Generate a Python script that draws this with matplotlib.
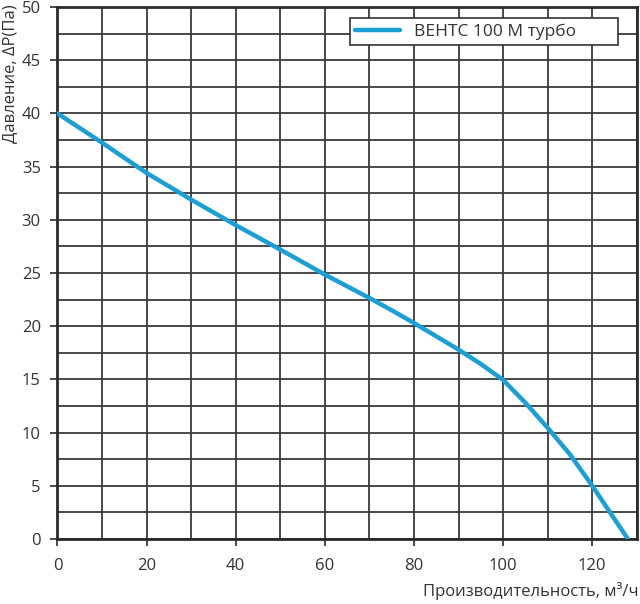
import numpy as np
import matplotlib.pyplot as plt
from matplotlib.ticker import MultipleLocator

# расход, м3/ч и давление, Па
flow = [0, 10, 20, 30, 40, 50, 60, 70, 75, 80, 85, 90, 95, 100, 105, 110, 115, 120, 124, 128]
pressure = [40, 37.25, 34.4, 31.9, 29.5, 27.2, 24.85, 22.65, 21.5, 20.3, 19.05, 17.8, 16.45,
            14.95, 12.8, 10.45, 7.95, 5.0, 2.5, 0]
label = "ВЕНТС 100 М турбо"

plt.rcParams['font.family'] = ['Open Sans', 'DejaVu Sans']
txt = '#333333'
gridc = '#3a3a3a'

fig = plt.figure(figsize=(6.4, 6.04), dpi=100)
ax = fig.add_axes([0.0898, 0.1076, 0.9052, 0.8808])

ax.plot(flow, pressure, color='#1a9fd6', lw=3.2, solid_capstyle='round',
        solid_joinstyle='round', label=label + " " * 8, zorder=3)

ax.set_xlim(0, 130)
ax.set_ylim(0, 50)
ax.xaxis.set_major_locator(MultipleLocator(20))
ax.xaxis.set_minor_locator(MultipleLocator(10))
ax.yaxis.set_major_locator(MultipleLocator(5))
ax.yaxis.set_minor_locator(MultipleLocator(2.5))
ax.grid(which='both', color=gridc, lw=1.3)
ax.set_axisbelow(True)

for s in ax.spines.values():
    s.set_color('#2a2a2a')
    s.set_linewidth(2.0)

ax.tick_params(which='major', direction='out', length=5, width=1.3,
               color=gridc, labelcolor=txt, labelsize=12)
ax.tick_params(which='minor', length=0)
ax.tick_params(axis='x', pad=9)
ax.tick_params(axis='y', pad=7)

fig.text(0.997, 0.006, "Производительность, м³/ч", ha='right', va='bottom',
         fontsize=12, color=txt)
fig.text(0.003, 0.992, "Давление, ΔP(Па)", rotation=90, ha='left', va='top',
         fontsize=12, color=txt)

leg = ax.legend(loc='upper right', bbox_to_anchor=(0.967, 0.979),
                borderaxespad=0, fancybox=False, framealpha=1,
                edgecolor='#333333', fontsize=12.5, handlelength=2.6,
                borderpad=0.3)
leg.get_frame().set_linewidth(1.2)
for t in leg.get_texts():
    t.set_color(txt)

fig.savefig('out.png', dpi=100)
